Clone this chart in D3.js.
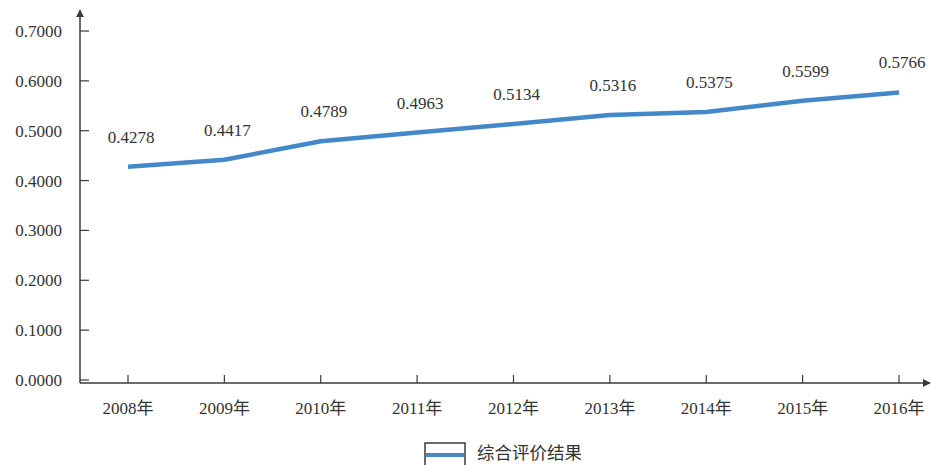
<!DOCTYPE html>
<html>
<head>
<meta charset="utf-8">
<script src="https://cdn.jsdelivr.net/npm/d3@7/dist/d3.min.js"></script>
<style>
  html, body { margin: 0; padding: 0; background: #fff; }
  svg { display: block; }
  text { font-family: "Liberation Serif", "Noto Sans CJK SC", serif; fill: #333; }
</style>
</head>
<body>
<svg id="chart" width="931" height="465"></svg>
<script>
// Data
const years = ["2008年", "2009年", "2010年", "2011年", "2012年", "2013年", "2014年", "2015年", "2016年"];
const scores = [0.4278, 0.4417, 0.4789, 0.4963, 0.5134, 0.5316, 0.5375, 0.5599, 0.5766];
const yTicks = [0, 0.1, 0.2, 0.3, 0.4, 0.5, 0.6, 0.7];
const seriesName = "综合评价结果";

const svg = d3.select("#chart");
const axisX0 = 80, axisX1 = 930, axisY = 383;
const lineColor = "#4389c9";
const axisColor = "#3a3a3a";

const x = d3.scalePoint().domain(years).range([128, 899]);
const y = d3.scaleLinear().domain([0, 0.7]).range([380, 31]);

// Axes drawn by hand: arrows, inward ticks
svg.append("defs").append("marker")
  .attr("id", "arrow").attr("viewBox", "0 0 10 10")
  .attr("refX", 9).attr("refY", 5)
  .attr("markerWidth", 8).attr("markerHeight", 8)
  .attr("markerUnits", "userSpaceOnUse")
  .attr("orient", "auto")
  .append("path").attr("d", "M0,0 L10,5 L0,10 Z").attr("fill", axisColor);

svg.append("line")
  .attr("x1", axisX0).attr("y1", axisY).attr("x2", axisX0).attr("y2", 10)
  .attr("stroke", axisColor).attr("stroke-width", 1.5)
  .attr("marker-end", "url(#arrow)");
svg.append("line")
  .attr("x1", axisX0).attr("y1", axisY).attr("x2", axisX1).attr("y2", axisY)
  .attr("stroke", axisColor).attr("stroke-width", 1.5)
  .attr("marker-end", "url(#arrow)");

// Y ticks and labels
const yt = svg.append("g");
yt.selectAll("line").data(yTicks).join("line")
  .attr("x1", axisX0).attr("x2", axisX0 + 9)
  .attr("y1", d => y(d)).attr("y2", d => y(d))
  .attr("stroke", axisColor).attr("stroke-width", 1.2);
yt.selectAll("text").data(yTicks).join("text")
  .attr("x", 62).attr("y", d => y(d))
  .attr("dy", "0.35em")
  .attr("text-anchor", "end")
  .attr("font-size", 17)
  .text(d => d.toFixed(4));

// X ticks and labels
const xt = svg.append("g");
xt.selectAll("line").data(years).join("line")
  .attr("x1", d => x(d)).attr("x2", d => x(d))
  .attr("y1", axisY).attr("y2", axisY - 8)
  .attr("stroke", axisColor).attr("stroke-width", 1.2);
xt.selectAll("text").data(years).join("text")
  .attr("x", d => x(d)).attr("y", 414)
  .attr("text-anchor", "middle")
  .attr("font-size", 17)
  .text(d => d);

// Series line
const pts = years.map((yr, i) => ({ yr, v: scores[i] }));
svg.append("path")
  .datum(pts)
  .attr("fill", "none")
  .attr("stroke", lineColor)
  .attr("stroke-width", 4.5)
  .attr("stroke-linejoin", "round")
  .attr("d", d3.line().x(d => x(d.yr)).y(d => y(d.v)));

// Value labels
svg.append("g").selectAll("text").data(pts).join("text")
  .attr("x", d => x(d.yr) + 3)
  .attr("y", d => y(d.v) - 30)
  .attr("dy", "0.35em")
  .attr("text-anchor", "middle")
  .attr("font-size", 17)
  .text(d => d.v.toFixed(4));

// Legend
const lg = svg.append("g");
lg.append("rect")
  .attr("x", 425).attr("y", 443).attr("width", 40).attr("height", 30)
  .attr("fill", "#fff").attr("stroke", axisColor).attr("stroke-width", 1.5);
lg.append("line")
  .attr("x1", 426).attr("x2", 464).attr("y1", 455).attr("y2", 455)
  .attr("stroke", lineColor).attr("stroke-width", 4);
lg.append("text")
  .attr("x", 477).attr("y", 453)
  .attr("dy", "0.35em")
  .attr("font-size", 17.5)
  .text(seriesName);
</script>
</body>
</html>
